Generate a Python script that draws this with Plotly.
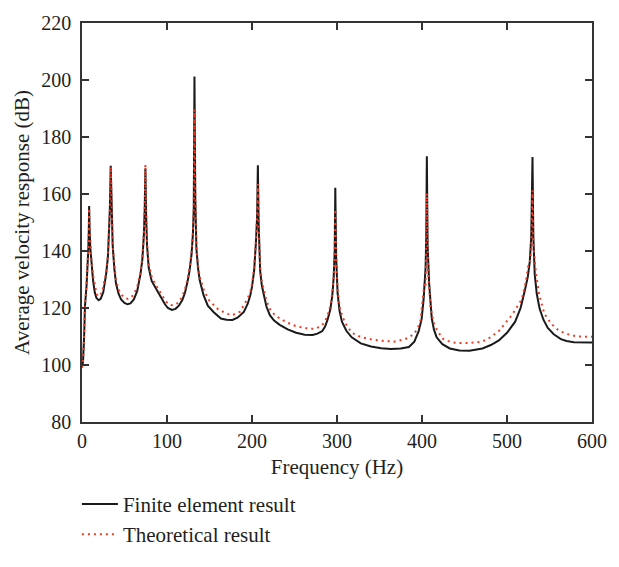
import plotly.graph_objects as go

# Finite element result: frequency (Hz) and average velocity response (dB)
fe_freq = [0, 1.2, 2.5, 3.5, 5.3, 6.5, 7.3, 8.0, 8.4, 8.9, 9.8, 11.1, 13.0, 15.0, 17.0, 19.6, 22.0, 25.0,
           28.4, 30.5, 31.5, 32.8, 33.8, 34.8, 36.1, 38.0, 40.0, 43.0, 46.0, 50.0, 53.4, 57.0, 61.0, 65.0,
           68.8, 71.0, 72.7, 73.8, 74.6, 75.4, 76.5, 78.5, 82.0, 88.0, 93.0, 97.6, 101.0, 105.7, 110.0,
           114.0, 118.0, 121.0, 124.0, 126.5, 128.8, 130.5, 131.5, 132.3, 133.3, 134.6, 136.5, 138.5,
           143.0, 148.0, 155.0, 163.4, 170.0, 176.9, 183.0, 190.4, 195.0, 198.0, 200.0, 202.5, 204.6,
           206.0, 206.9, 207.8, 209.6, 211.5, 213.5, 217.0, 221.0, 226.0, 232.6, 242.0, 251.9, 262.0,
           271.2, 277.0, 282.7, 286.0, 289.0, 292.3, 294.5, 296.1, 297.3, 298.0, 299.0, 300.7, 303.0,
           305.8, 311.0, 317.3, 328.0, 340.0, 352.0, 363.5, 375.0, 384.6, 391.0, 396.1, 399.5, 401.9,
           404.2, 405.0, 405.7, 406.6, 408.4, 410.0, 411.5, 414.0, 417.2, 424.0, 432.7, 444.0, 455.8,
           471.1, 481.0, 490.4, 500.0, 509.6, 516.0, 521.1, 524.5, 526.8, 528.5, 530.0, 531.0, 532.6,
           535.0, 538.4, 543.0, 548.0, 555.0, 563.4, 570.0, 578.7, 590.0, 600.0]
fe_db = [99.7, 101.0, 110.0, 120.8, 127.6, 133.0, 139.7, 147.0, 155.8, 148.0, 141.0, 135.0, 129.7, 125.5,
         123.5, 122.7, 123.2, 125.5, 131.9, 138.0, 145.2, 155.0, 169.9, 152.0, 141.9, 134.0, 128.6, 125.0,
         123.0, 121.8, 121.3, 121.6, 123.0, 126.0, 131.9, 137.0, 145.2, 155.0, 168.9, 153.0, 142.0, 134.1,
         129.5, 126.3, 123.5, 121.3, 120.0, 119.3, 119.7, 120.8, 122.8, 125.2, 129.0, 133.0, 138.6, 146.0,
         155.2, 201.2, 158.0, 140.8, 134.0, 129.7, 124.5, 120.8, 118.5, 116.3, 115.9, 115.8, 116.6, 118.6,
         121.5, 124.5, 127.5, 133.0, 143.0, 152.0, 170.1, 150.0, 133.0, 128.0, 125.2, 120.5, 117.5, 115.6,
         114.1, 112.5, 111.3, 110.6, 110.5, 111.0, 111.9, 113.5, 116.0, 119.7, 124.5, 130.8, 140.0, 162.2,
         138.0, 125.2, 119.0, 115.2, 112.0, 109.7, 107.6, 106.5, 105.9, 105.6, 105.8, 106.3, 108.2, 111.9,
         116.0, 123.0, 134.1, 145.0, 173.2, 142.0, 128.6, 121.0, 116.3, 112.5, 109.7, 107.3, 105.8, 105.1,
         105.0, 105.8, 107.0, 108.6, 111.3, 115.2, 120.0, 126.3, 131.0, 136.3, 145.0, 173.0, 145.0, 131.9,
         125.0, 119.7, 115.8, 113.0, 110.8, 109.1, 108.4, 108.0, 107.9, 107.9]

# Theoretical result: frequency (Hz) and average velocity response (dB)
th_freq = [0, 1.2, 2.5, 3.5, 5.3, 6.5, 7.3, 8.0, 8.4, 9.0, 9.8, 11.1, 13.0, 15.0, 17.0, 18.8, 21.0, 24.0,
           28.4, 30.5, 31.5, 32.8, 33.8, 34.8, 36.1, 38.0, 40.0, 43.0, 46.0, 50.0, 54.0, 57.0, 61.0, 65.0,
           68.8, 71.0, 72.7, 73.8, 74.6, 75.4, 76.5, 78.5, 82.0, 88.0, 93.0, 97.6, 101.0, 105.0, 110.0,
           114.0, 118.0, 121.0, 124.0, 126.5, 128.8, 130.5, 131.5, 132.3, 133.3, 134.6, 136.5, 138.5,
           144.0, 150.0, 159.6, 170.0, 177.0, 186.0, 194.2, 198.0, 200.0, 202.5, 204.6, 206.0, 206.9,
           207.8, 209.6, 211.5, 213.5, 217.0, 221.0, 226.0, 232.6, 242.0, 252.0, 260.0, 267.0, 275.0,
           282.0, 286.0, 289.0, 292.3, 294.5, 296.0, 297.3, 298.0, 299.0, 300.7, 303.0, 305.8, 309.6,
           317.3, 328.0, 340.0, 352.0, 367.0, 380.0, 390.4, 395.0, 398.0, 401.0, 403.0, 404.3, 405.0,
           405.7, 407.0, 408.5, 410.0, 413.4, 418.0, 425.0, 434.0, 444.2, 455.0, 471.0, 481.0, 490.4,
           498.0, 505.7, 512.0, 517.3, 522.0, 525.0, 526.5, 528.5, 530.0, 531.0, 534.2, 538.0, 544.0,
           552.0, 561.5, 572.0, 582.7, 600.0]
th_db = [99.0, 101.5, 111.0, 121.5, 128.5, 134.0, 140.5, 147.0, 155.0, 148.0, 142.0, 136.5, 131.5, 127.5,
         125.2, 124.1, 124.3, 125.8, 132.5, 138.5, 145.5, 155.0, 169.5, 152.5, 142.5, 135.0, 130.0, 126.5,
         124.8, 123.6, 123.2, 123.5, 124.8, 127.5, 132.5, 138.0, 146.0, 156.0, 170.4, 154.0, 143.0, 135.5,
         131.0, 127.5, 124.8, 122.8, 121.5, 121.0, 121.2, 122.0, 124.0, 126.5, 130.0, 134.0, 139.5, 147.0,
         155.5, 189.7, 158.5, 142.0, 135.0, 131.0, 125.8, 122.5, 119.7, 118.0, 117.5, 118.7, 123.0, 125.5,
         128.5, 134.0, 143.5, 152.0, 163.5, 149.0, 134.5, 129.5, 127.0, 122.5, 119.7, 117.8, 116.3, 114.8,
         113.6, 113.0, 112.7, 112.8, 113.8, 115.3, 117.5, 121.0, 125.5, 130.8, 140.0, 154.7, 139.0, 127.0,
         120.5, 117.5, 114.7, 111.3, 109.8, 109.0, 108.5, 108.2, 109.0, 110.8, 113.0, 115.2, 123.0, 129.0,
         128.0, 140.0, 160.2, 133.0, 126.0, 120.5, 115.2, 112.0, 109.1, 108.0, 107.7, 107.7, 108.2, 109.8,
         111.9, 114.5, 117.5, 120.5, 123.0, 129.0, 134.7, 135.5, 140.0, 161.3, 142.0, 131.9, 124.5, 118.0,
         114.5, 111.9, 110.8, 110.0, 109.9]

x_ticks = [0, 100, 200, 300, 400, 500, 600]
y_ticks = [80, 100, 120, 140, 160, 180, 200, 220]

FONT = "Liberation Serif"
TXT = "#231f20"

fig = go.Figure()
fig.add_trace(go.Scatter(x=fe_freq, y=fe_db, mode="lines", name="Finite element result",
                         line=dict(color="#1a1a1a", width=2)))
fig.add_trace(go.Scatter(x=th_freq, y=th_db, mode="lines", name="Theoretical result",
                         line=dict(color="#ee3b24", width=2, dash="2px,4px")))

axis_common = dict(showline=True, linecolor="#333333", linewidth=1.5, mirror="ticks",
                   ticks="inside", ticklen=7, tickwidth=1.5, tickcolor="#333333",
                   showgrid=False, zeroline=False,
                   tickfont=dict(family=FONT, size=20, color=TXT))

fig.update_layout(
    width=619, height=567,
    margin=dict(l=82, r=18, t=16, b=131),
    paper_bgcolor="white", plot_bgcolor="white",
    font=dict(family=FONT, size=21, color=TXT),
    xaxis=dict(range=[0, 600], tickvals=x_ticks,
               title=dict(text="Frequency (Hz)", font=dict(family=FONT, size=21, color=TXT), standoff=9),
               **axis_common),
    yaxis=dict(range=[80, 220], tickvals=y_ticks, ticklabelstandoff=5,
               title=dict(text="Average velocity response (dB)", font=dict(family=FONT, size=21, color=TXT),
                          standoff=6),
               **axis_common),
    showlegend=True,
    legend=dict(x=-0.01, xanchor="left", y=-0.155, yanchor="top", orientation="v",
                font=dict(family=FONT, size=21, color=TXT), bgcolor="rgba(0,0,0,0)",
                itemwidth=36, tracegroupgap=0),
)

fig.write_html("out.html")
